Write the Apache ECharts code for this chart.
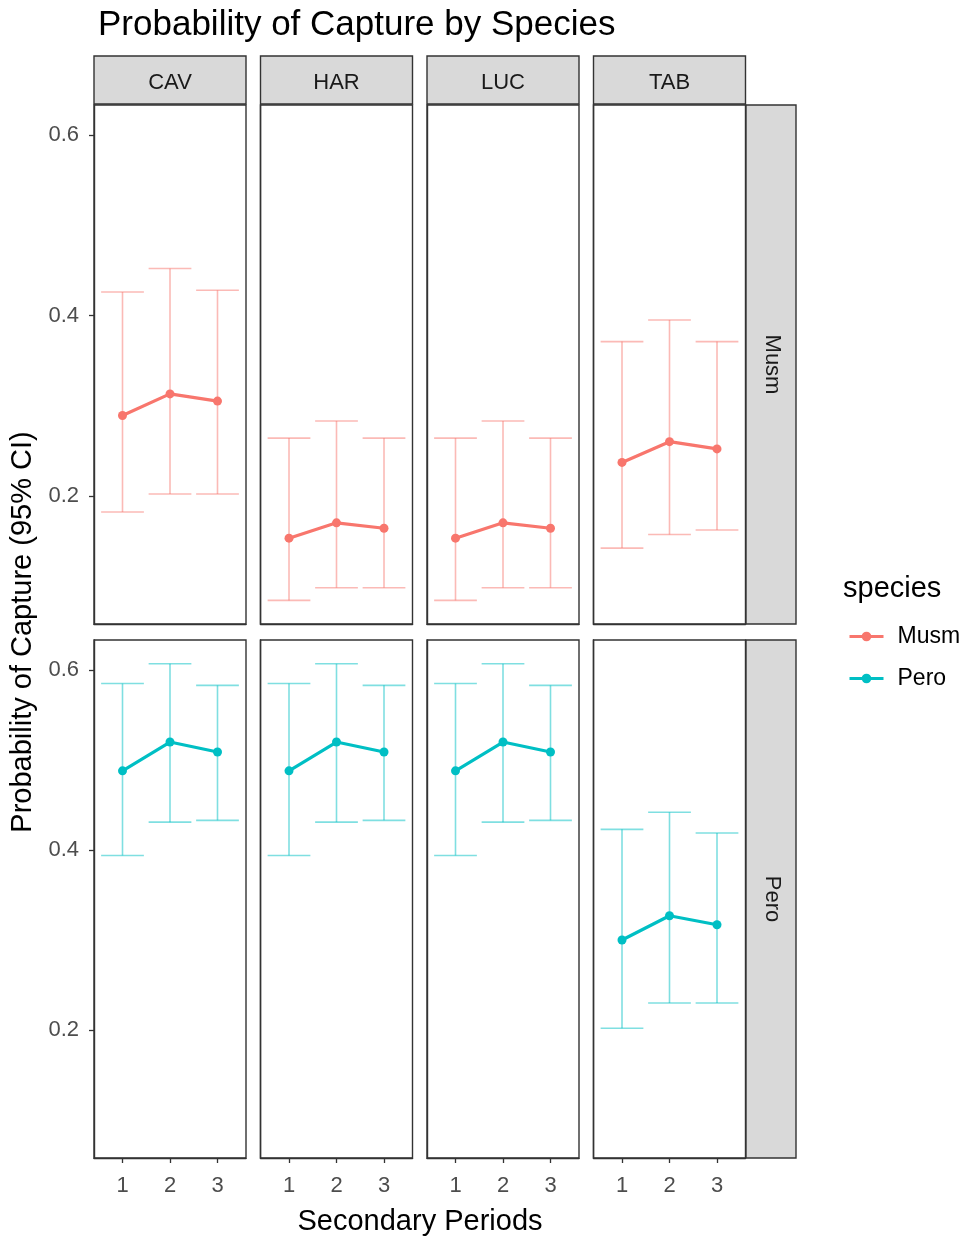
<!DOCTYPE html>
<html>
<head>
<meta charset="utf-8">
<script src="https://cdn.jsdelivr.net/npm/echarts@6/dist/echarts.min.js"></script>
<style>
html,body{margin:0;padding:0;background:#fff;}
#chart{width:969px;height:1239px;}
</style>
</head>
<body>
<div id="chart"></div>
<script>
// ---- data ----
const sites = ['CAV', 'HAR', 'LUC', 'TAB'];
const speciesNames = ['Musm', 'Pero'];
const periods = [1, 2, 3];
const yTicks = [0.2, 0.4, 0.6];

// per site (CAV, HAR, LUC, TAB), per secondary period 1..3
const musmEst   = [[0.289, 0.313, 0.305], [0.153, 0.170, 0.164], [0.153, 0.170, 0.164], [0.237, 0.260, 0.252]];
const musmLower = [[0.182, 0.202, 0.202], [0.084, 0.098, 0.098], [0.084, 0.098, 0.098], [0.142, 0.157, 0.162]];
const musmUpper = [[0.426, 0.452, 0.428], [0.264, 0.283, 0.264], [0.264, 0.283, 0.264], [0.371, 0.395, 0.371]];
const peroEst   = [[0.488, 0.520, 0.509], [0.488, 0.520, 0.509], [0.488, 0.520, 0.509], [0.300, 0.327, 0.317]];
const peroLower = [[0.394, 0.431, 0.433], [0.394, 0.431, 0.433], [0.394, 0.431, 0.433], [0.202, 0.230, 0.230]];
const peroUpper = [[0.585, 0.607, 0.583], [0.585, 0.607, 0.583], [0.585, 0.607, 0.583], [0.423, 0.442, 0.419]];

// ---- layout / style ----
const FONT = '"Liberation Sans", Arial, sans-serif';
const colors = ['#F8766D', '#00BFC4'];
const ciColors = ['rgba(248,118,109,0.5)', 'rgba(0,191,196,0.5)'];
const colLeft = [94, 260.5, 427, 593.5];
const panelW = 152;
const rowTop = [105, 640];
const rowH = [519, 518];
const stripTop = 56, stripH = 48;
const stripRightX = 746, stripRightW = 50;
const yMin = 0.0578, yMax = 0.6334;

const est = [musmEst, peroEst];
const lower = [musmLower, peroLower];
const upper = [musmUpper, peroUpper];

const grids = [], xAxes = [], yAxes = [], series = [], graphics = [];

for (let r = 0; r < 2; r++) {
  for (let c = 0; c < 4; c++) {
    const gi = r * 4 + c;
    grids.push({
      left: colLeft[c], top: rowTop[r], width: panelW, height: rowH[r],
      show: true, borderColor: '#333333', borderWidth: 1.4, backgroundColor: '#ffffff'
    });
    const bottomRow = r === 1;
    xAxes.push({
      type: 'value', gridIndex: gi, min: 0.4, max: 3.6,
      axisLine: { show: true, lineStyle: { color: '#333333', width: 1.4 } },
      axisTick: { show: bottomRow, length: 5, lineStyle: { color: '#333333', width: 1.3 }, customValues: periods },
      axisLabel: { show: bottomRow, customValues: periods, color: '#4D4D4D', fontSize: 22, fontFamily: FONT, margin: 17 },
      splitLine: { show: false }
    });
    const leftCol = c === 0;
    yAxes.push({
      type: 'value', gridIndex: gi, min: yMin, max: yMax,
      axisLine: { show: true, lineStyle: { color: '#333333', width: 1.4 } },
      axisTick: { show: leftCol, length: 5, lineStyle: { color: '#333333', width: 1.3 }, customValues: yTicks },
      axisLabel: { show: leftCol, customValues: yTicks, color: '#4D4D4D', fontSize: 22, fontFamily: FONT, margin: 15,
                   formatter: v => v.toFixed(1) },
      splitLine: { show: false }
    });

    // error bars
    series.push({
      type: 'custom', name: speciesNames[r] + ' CI', xAxisIndex: gi, yAxisIndex: gi, z: 2,
      data: periods.map((p, i) => [p, lower[r][c][i], upper[r][c][i]]),
      encode: { x: 0, y: [1, 2] },
      renderItem: function (params, api) {
        const x = api.value(0), lo = api.value(1), hi = api.value(2);
        const pLo = api.coord([x, lo]), pHi = api.coord([x, hi]);
        const half = api.size([0.45, 0])[0];
        const st = { stroke: ciColors[r], lineWidth: 1.6 };
        return {
          type: 'group', children: [
            { type: 'line', shape: { x1: pLo[0], y1: pLo[1], x2: pHi[0], y2: pHi[1] }, style: st },
            { type: 'line', shape: { x1: pLo[0] - half, y1: pLo[1], x2: pLo[0] + half, y2: pLo[1] }, style: st },
            { type: 'line', shape: { x1: pHi[0] - half, y1: pHi[1], x2: pHi[0] + half, y2: pHi[1] }, style: st }
          ]
        };
      }
    });
    // estimates
    series.push({
      type: 'line', name: speciesNames[r], xAxisIndex: gi, yAxisIndex: gi, z: 5,
      data: periods.map((p, i) => [p, est[r][c][i]]),
      symbol: 'circle', symbolSize: 9, showSymbol: true,
      itemStyle: { color: colors[r] },
      lineStyle: { color: colors[r], width: 3.2 },
      emphasis: { disabled: true }, animation: false
    });
  }
}

// facet strips (top)
for (let c = 0; c < 4; c++) {
  graphics.push({ type: 'rect', shape: { x: colLeft[c], y: stripTop, width: panelW, height: stripH },
    style: { fill: '#D9D9D9', stroke: '#333333', lineWidth: 1.4 } });
  graphics.push({ type: 'text', x: colLeft[c] + panelW / 2, y: stripTop + stripH / 2 + 3,
    style: { text: sites[c], fill: '#1A1A1A', font: '22px ' + FONT, align: 'center', verticalAlign: 'middle' } });
}
// facet strips (right)
for (let r = 0; r < 2; r++) {
  graphics.push({ type: 'rect', shape: { x: stripRightX, y: rowTop[r], width: stripRightW, height: rowH[r] },
    style: { fill: '#D9D9D9', stroke: '#333333', lineWidth: 1.4 } });
  graphics.push({ type: 'text', x: stripRightX + stripRightW / 2 + 1, y: rowTop[r] + rowH[r] / 2, rotation: -Math.PI / 2,
    style: { text: speciesNames[r], fill: '#1A1A1A', font: '22px ' + FONT, align: 'center', verticalAlign: 'middle' } });
}
// axis titles
graphics.push({ type: 'text', x: 23, y: 632, rotation: Math.PI / 2,
  style: { text: 'Probability of Capture (95% CI)', fill: '#000000', font: '29px ' + FONT, align: 'center', verticalAlign: 'middle' } });
graphics.push({ type: 'text', x: 420, y: 1222,
  style: { text: 'Secondary Periods', fill: '#000000', font: '29px ' + FONT, align: 'center', verticalAlign: 'middle' } });

const chart = echarts.init(document.getElementById('chart'), null, { renderer: 'canvas' });
chart.setOption({
  animation: false,
  backgroundColor: '#ffffff',
  title: [
    { text: 'Probability of Capture by Species', left: 93, top: 3,
      textStyle: { fontSize: 35, fontWeight: 'normal', color: '#000000', fontFamily: FONT } },
    { text: 'species', left: 838, top: 569,
      textStyle: { fontSize: 29, fontWeight: 'normal', color: '#000000', fontFamily: FONT } }
  ],
  legend: {
    data: speciesNames, orient: 'vertical', left: 843, top: 620,
    itemWidth: 34, itemHeight: 12, itemGap: 19,
    lineStyle: { width: 3 },
    textStyle: { fontSize: 23, color: '#000000', fontFamily: FONT, padding: [0, 0, 0, 9] },
    selectedMode: false
  },
  grid: grids,
  xAxis: xAxes,
  yAxis: yAxes,
  series: series,
  graphic: graphics
});
</script>
</body>
</html>
